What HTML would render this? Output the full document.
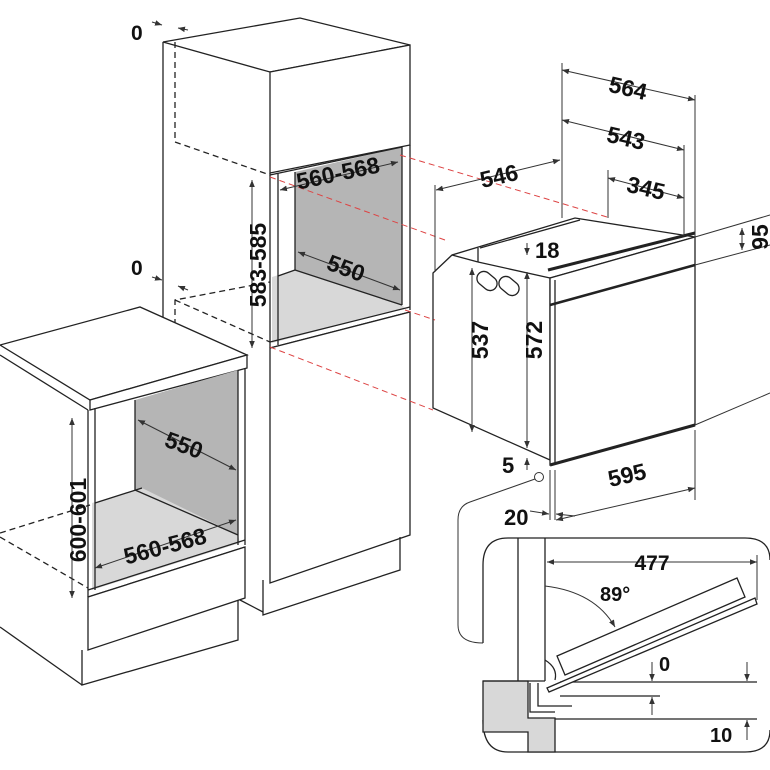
<!DOCTYPE html>
<html><head><meta charset="utf-8"><style>
html,body{margin:0;padding:0;background:#fff;}
svg{display:block;}
text{font-family:"Liberation Sans",sans-serif;font-weight:bold;fill:#111;}
</style></head><body>
<svg width="770" height="770" viewBox="0 0 770 770" xmlns="http://www.w3.org/2000/svg">
<defs>
<marker id="a" viewBox="0 0 10 10" refX="10" refY="5" markerWidth="7" markerHeight="7" orient="auto-start-reverse"><path d="M0,1 L10,5 L0,9 z" fill="#333"/></marker>
</defs>
<g fill="none" stroke="#222" stroke-width="1.3">
<polygon points="163,42 300,18 410,45 270,72" fill="#fff"/>
<polygon points="270,72 410,45 410,145 270,173" fill="#fff"/>
<line x1="163" y1="42" x2="163" y2="320"/>
<polygon points="295,172 402,147 402,305 295,270" fill="#b5b5b5" stroke="none"/>
<polygon points="272,277 295,270 402,305 405,308 272,343" fill="#d8d8d8" stroke="none"/>
<line x1="270" y1="173" x2="270" y2="348"/>
<line x1="278" y1="173" x2="278" y2="345"/>
<line x1="270" y1="175" x2="402" y2="147"/>
<line x1="402" y1="147" x2="402" y2="305"/>
<line x1="410" y1="145" x2="410" y2="310"/>
<line x1="295" y1="172" x2="295" y2="270"/>
<line x1="295" y1="270" x2="402" y2="305"/>
<line x1="278" y1="276" x2="295" y2="270"/>
<line x1="270" y1="342" x2="410" y2="307"/>
<line x1="270" y1="348" x2="410" y2="312"/>
<polygon points="270,348 410,312 410,535 270,583" fill="#fff"/>
<polyline points="263,580 263,615 400,570 400,537"/>
<line x1="240" y1="600" x2="263" y2="612"/>
<g stroke-dasharray="6,4">
<polyline points="175,42 175,142 270,175"/>
<polyline points="175,345 175,300 270,282"/>
<line x1="175" y1="300" x2="270" y2="342"/>
<line x1="0" y1="533" x2="90" y2="505"/>
<line x1="0" y1="537" x2="88" y2="588"/>
</g>
<polygon points="0,345 140,307 247,355 90,400" fill="#fff"/>
<polygon points="90,400 247,355 247,368 90,410" fill="#fff"/>
<polygon points="135,400 238,370 238,535 135,490" fill="#b5b5b5" stroke="none"/>
<polygon points="92,503 142,488 238,535 240,543 92,590" fill="#d8d8d8" stroke="none"/>
<line x1="135" y1="400" x2="135" y2="490"/>
<line x1="135" y1="490" x2="238" y2="535"/>
<line x1="95" y1="503" x2="142" y2="488"/>
<line x1="238" y1="370" x2="238" y2="545"/>
<line x1="245" y1="368" x2="245" y2="545"/>
<line x1="88" y1="410" x2="88" y2="597"/>
<line x1="95" y1="408" x2="95" y2="590"/>
<line x1="0" y1="355" x2="88" y2="410"/>
<line x1="88" y1="590" x2="245" y2="540"/>
<line x1="88" y1="597" x2="245" y2="547"/>
<polygon points="88,597 245,547 245,598 88,650" fill="#fff"/>
<polyline points="82,650 82,685 238,640 238,600"/>
<line x1="0" y1="627" x2="82" y2="685"/>
<polygon points="433,273 452,255 575,218 695,237 550,278 550,460 433,408" fill="#fff"/>
<line x1="452" y1="255" x2="478" y2="262"/>
<line x1="478" y1="262" x2="478" y2="248"/>
<line x1="478" y1="262" x2="550" y2="278"/>
<line x1="480" y1="248" x2="580" y2="220"/>
<polygon points="550,278 695,237 695,425 550,465" fill="#fff"/>
<line x1="548" y1="270" x2="695" y2="233" stroke-width="3"/>
<line x1="550" y1="305" x2="695" y2="265" stroke-width="2.5"/>
<line x1="550" y1="465" x2="695" y2="425" stroke-width="3"/>
<line x1="555" y1="280" x2="555" y2="465"/>
<rect x="480" y="270" width="14" height="22" rx="7" transform="rotate(-50 487 281)"/>
<rect x="502" y="275" width="14" height="22" rx="7" transform="rotate(-50 509 286)"/>
</g>
<g stroke="#d44" stroke-width="1" stroke-dasharray="6,4" fill="none">
<line x1="400" y1="155" x2="607" y2="217"/>
<line x1="270" y1="177" x2="445" y2="240"/>
<line x1="405" y1="310" x2="435" y2="320"/>
<line x1="270" y1="347" x2="433" y2="410"/>
</g>
<g stroke="#333" stroke-width="1" fill="none">
<line x1="562" y1="63" x2="562" y2="218"/>
<line x1="695" y1="95" x2="695" y2="238"/>
<line x1="684" y1="145" x2="684" y2="236"/>
<line x1="608" y1="170" x2="608" y2="218"/>
<line x1="435" y1="185" x2="435" y2="272"/>
<line x1="562" y1="70" x2="695" y2="100" marker-start="url(#a)" marker-end="url(#a)"/>
<line x1="562" y1="120" x2="684" y2="150" marker-start="url(#a)" marker-end="url(#a)"/>
<line x1="608" y1="178" x2="684" y2="198" marker-start="url(#a)" marker-end="url(#a)"/>
<line x1="436" y1="190" x2="560" y2="160" marker-start="url(#a)" marker-end="url(#a)"/>
<line x1="695" y1="237" x2="770" y2="215"/>
<line x1="695" y1="265" x2="770" y2="245"/>
<line x1="742" y1="228" x2="742" y2="250" marker-start="url(#a)" marker-end="url(#a)"/>
<line x1="695" y1="425" x2="770" y2="393"/>
<line x1="695" y1="430" x2="695" y2="500"/>
<line x1="556" y1="520" x2="695" y2="488" marker-start="url(#a)" marker-end="url(#a)"/>
<line x1="472" y1="268" x2="472" y2="432" marker-start="url(#a)" marker-end="url(#a)"/>
<line x1="527" y1="272" x2="527" y2="448" marker-start="url(#a)" marker-end="url(#a)"/>
<line x1="527" y1="243" x2="527" y2="255" marker-end="url(#a)"/>
<line x1="527" y1="470" x2="527" y2="458" marker-end="url(#a)"/>
<line x1="550" y1="470" x2="550" y2="520"/>
<line x1="555" y1="470" x2="555" y2="520"/>
<line x1="530" y1="511" x2="549" y2="514" marker-end="url(#a)"/>
<line x1="575" y1="516" x2="556" y2="514" marker-end="url(#a)"/>
<line x1="152" y1="22" x2="162" y2="25" marker-end="url(#a)"/>
<line x1="188" y1="30" x2="178" y2="28" marker-end="url(#a)"/>
<line x1="152" y1="277" x2="162" y2="280" marker-end="url(#a)"/>
<line x1="188" y1="290" x2="178" y2="286" marker-end="url(#a)"/>
<line x1="252" y1="180" x2="252" y2="348" marker-start="url(#a)" marker-end="url(#a)"/>
<line x1="72" y1="418" x2="72" y2="598" marker-start="url(#a)" marker-end="url(#a)"/>
<line x1="280" y1="190" x2="398" y2="162" marker-start="url(#a)" marker-end="url(#a)"/>
<line x1="298" y1="252" x2="400" y2="290" marker-start="url(#a)" marker-end="url(#a)"/>
<line x1="138" y1="420" x2="236" y2="470" marker-start="url(#a)" marker-end="url(#a)"/>
<line x1="95" y1="568" x2="236" y2="520" marker-start="url(#a)" marker-end="url(#a)"/>
<circle cx="539" cy="477" r="4.5" fill="#fff"/>
<path d="M535,479 L470,502 Q458,506 458,520 L458,625 Q458,643 483,643"/>
</g>
<g stroke="#222" stroke-width="1.3" fill="none">
<path d="M483,643 L483,565 Q483,538 508,538 L745,538 Q770,538 770,560"/>
<path d="M483,720 Q483,752 508,752 L745,752 Q770,752 770,730"/>
<polygon points="483,681 528,681 528,718 555,718 555,752 528,752 528,732 483,732" fill="#d8d8d8"/>
<line x1="518" y1="538" x2="518" y2="681"/>
<line x1="545" y1="538" x2="545" y2="681"/>
<line x1="483" y1="681" x2="545" y2="681"/>
<polyline points="530,683 530,712 555,712"/>
<polyline points="538,683 538,706 572,706"/>
<line x1="555" y1="719" x2="757" y2="719"/>
<line x1="560" y1="682" x2="757" y2="682"/>
<line x1="560" y1="696" x2="660" y2="696"/>
<polygon points="557,656 737,578 745,597 565,675" fill="#fff"/>
<polygon points="547,688 755,598 757,604 549,692" fill="#fff"/>
<path d="M545,660 Q558,668 555,680"/>
</g>
<g stroke="#333" stroke-width="1" fill="none">
<line x1="547" y1="562" x2="757" y2="562" marker-start="url(#a)" marker-end="url(#a)"/>
<line x1="757" y1="555" x2="757" y2="600"/>
<path d="M545,586 Q595,592 615,627" marker-end="url(#a)"/>
<line x1="652" y1="662" x2="652" y2="681" marker-end="url(#a)"/>
<line x1="747" y1="662" x2="747" y2="681" marker-end="url(#a)"/>
<line x1="652" y1="715" x2="652" y2="697" marker-end="url(#a)"/>
<line x1="747" y1="740" x2="747" y2="720" marker-end="url(#a)"/>
</g>
<text x="131" y="40" font-size="21">0</text>
<text x="131" y="275" font-size="21">0</text>
<text x="628" y="96" font-size="23" transform="rotate(13 628 88)" text-anchor="middle">564</text>
<text x="626" y="146" font-size="23" transform="rotate(13 626 138)" text-anchor="middle">543</text>
<text x="646" y="196" font-size="23" transform="rotate(13 646 188)" text-anchor="middle">345</text>
<text x="499" y="184" font-size="23" transform="rotate(-13 499 176)" text-anchor="middle">546</text>
<text x="535" y="258" font-size="22">18</text>
<text x="768" y="237" font-size="23" transform="rotate(-90 768 237)" text-anchor="middle">95</text>
<text x="488" y="340" font-size="23" transform="rotate(-90 488 340)" text-anchor="middle">537</text>
<text x="542" y="340" font-size="23" transform="rotate(-90 542 340)" text-anchor="middle">572</text>
<text x="502" y="473" font-size="22">5</text>
<text x="504" y="525" font-size="22">20</text>
<text x="627" y="483" font-size="23" transform="rotate(-13 627 475)" text-anchor="middle">595</text>
<text x="338" y="181" font-size="23" transform="rotate(-12 338 173)" text-anchor="middle">560-568</text>
<text x="346" y="276" font-size="23" transform="rotate(20 346 268)" text-anchor="middle">550</text>
<text x="266" y="265" font-size="23" transform="rotate(-90 266 265)" text-anchor="middle">583-585</text>
<text x="184" y="453" font-size="23" transform="rotate(20 184 445)" text-anchor="middle">550</text>
<text x="86" y="520" font-size="23" transform="rotate(-90 86 520)" text-anchor="middle">600-601</text>
<text x="165" y="554" font-size="23" transform="rotate(-15 165 546)" text-anchor="middle">560-568</text>
<text x="652" y="570" font-size="21" text-anchor="middle">477</text>
<text x="600" y="601" font-size="20">89°</text>
<text x="659" y="671" font-size="20">0</text>
<text x="710" y="742" font-size="20">10</text>
</svg>
</body></html>
